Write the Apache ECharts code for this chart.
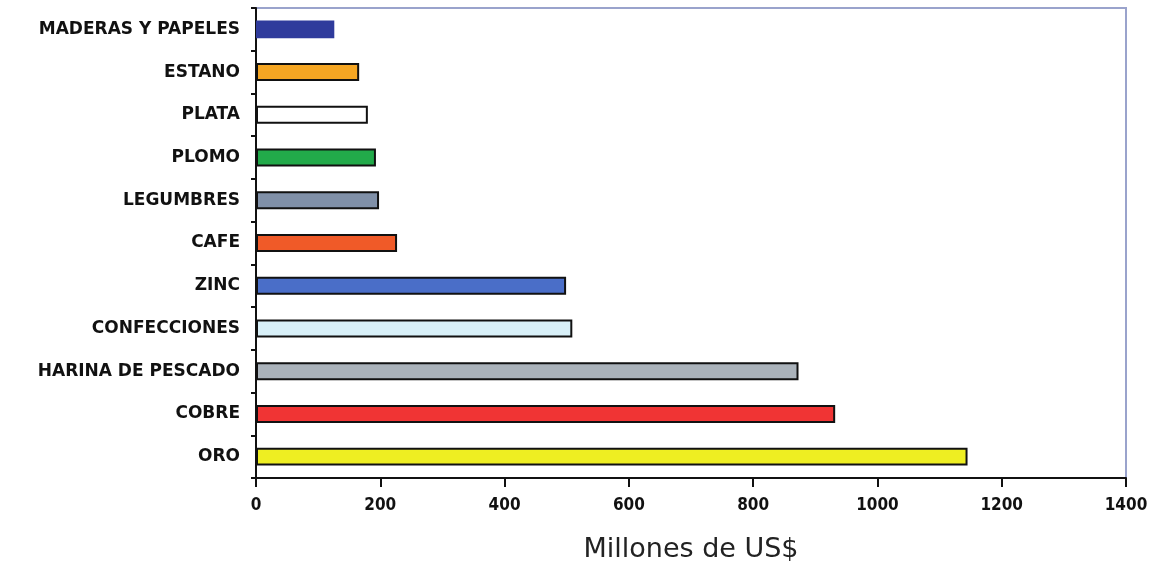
<!DOCTYPE html>
<html><head><meta charset="utf-8">
<script src="https://cdn.jsdelivr.net/npm/echarts@6/dist/echarts.min.js"></script>
<style>html,body{margin:0;padding:0;background:#fff}#c{width:1151px;height:568px}</style>
</head><body><div id="c"></div>
<script>
const categories = ['ORO','COBRE','HARINA DE PESCADO','CONFECCIONES','ZINC','CAFE','LEGUMBRES','PLOMO','PLATA','ESTANO','MADERAS Y PAPELES'];
const values = [1145, 932, 873, 509, 499, 227, 198, 193, 180, 166, 126];
const colors = ['#eeee22','#f03434','#aab2ba','#d8f0f8','#4a6ec8','#f05a28','#8090a8','#22aa4a','#ffffff','#f5a623','#2f3b9c'];
const xTicks = [0,200,400,600,800,1000,1200,1400];

const chart = echarts.init(document.getElementById('c'));
chart.setOption({
  animation:false,
  backgroundColor:'#fff',
  grid:{left:256,right:25,top:8,bottom:90,show:true,borderColor:'#9aa3cc',borderWidth:2,backgroundColor:'transparent',
    containLabel:false,outerBoundsMode:'none'},
  xAxis:{type:'value',min:0,max:1400,interval:200,
    name:'Millones de US$',nameLocation:'middle',nameGap:58,
    nameTextStyle:{fontSize:27,color:'#222',fontFamily:'DejaVu Sans'},
    axisLine:{show:true,lineStyle:{color:'#111',width:2}},
    axisTick:{show:true,length:9,lineStyle:{color:'#111',width:2}},
    axisLabel:{fontSize:17,fontWeight:'bold',color:'#111',margin:19,fontFamily:'DejaVu Sans Condensed, DejaVu Sans',
      formatter:v=>xTicks.includes(v)?String(v):''},
    splitLine:{show:false}},
  yAxis:{type:'category',data:categories,
    axisLine:{show:true,lineStyle:{color:'#111',width:2}},
    axisTick:{show:true,length:5,lineStyle:{color:'#111',width:2}},
    axisLabel:{fontSize:17,fontWeight:'bold',color:'#111',margin:16,fontFamily:'DejaVu Sans'}},
  series:[{type:'bar',barWidth:'42%',
    data:values.map((v,i)=>({value:v,itemStyle:{color:colors[i],borderColor:i===10?colors[i]:'#111',borderWidth:i===10?0:2}}))}]
});
</script></body></html>
